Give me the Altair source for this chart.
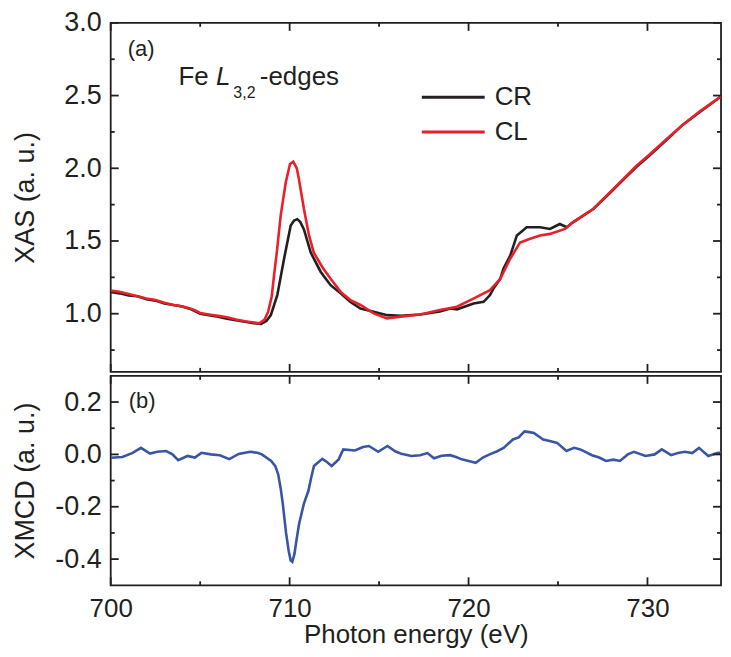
import altair as alt
import pandas as pd

# ---------------- data ----------------
cr_energy = [700.0, 700.5, 701.0, 701.5, 702.0, 702.5, 703.0, 703.5, 704.0, 704.5,
             705.0, 705.5, 706.0, 706.5, 707.0, 707.5, 708.0, 708.4, 708.7, 708.95,
             709.31, 709.69, 710.06, 710.25, 710.43, 710.6, 710.8, 711.18, 711.74, 712.29,
             712.85, 713.4, 713.96, 714.7, 715.45, 716.2, 717.3, 718.4, 718.98, 719.35,
             720.28, 720.84, 721.2, 721.39, 721.77, 721.95, 722.33, 722.7, 723.25, 724.0,
             724.55, 725.1, 725.49, 725.85, 726.97, 727.9, 728.64, 729.39, 730.13, 731.06,
             731.98, 732.91, 733.84, 734.5]
cr_xas = [1.150, 1.140, 1.125, 1.120, 1.100, 1.090, 1.070, 1.060, 1.050, 1.030,
          1.000, 0.990, 0.980, 0.965, 0.955, 0.945, 0.935, 0.930, 0.950, 0.990,
          1.128, 1.378, 1.606, 1.640, 1.650, 1.630, 1.580, 1.420, 1.287, 1.196,
          1.140, 1.080, 1.036, 1.014, 0.990, 0.985, 0.995, 1.015, 1.036, 1.030,
          1.070, 1.082, 1.128, 1.173, 1.240, 1.310, 1.400, 1.538, 1.595, 1.595,
          1.583, 1.617, 1.595, 1.630, 1.720, 1.830, 1.920, 2.010, 2.090, 2.195,
          2.300, 2.385, 2.470, 2.530]

cl_energy = [700.0, 700.5, 701.0, 701.5, 702.0, 702.5, 703.0, 703.5, 703.8, 704.2,
             704.6, 705.0, 705.5, 706.0, 706.5, 707.0, 707.5, 708.0, 708.3, 708.6,
             708.8, 709.0, 709.13, 709.3, 709.5, 709.78, 710.02, 710.2, 710.4, 710.52,
             710.8, 711.08, 711.35, 711.83, 712.29, 712.85, 713.4, 713.96, 714.7, 715.45,
             716.2, 717.3, 718.4, 719.35, 720.3, 721.2, 721.77, 722.33, 722.88, 723.44,
             724.0, 724.55, 725.39, 725.85, 726.97, 727.9, 728.64, 729.39, 730.13, 731.06,
             731.98, 732.91, 733.84, 734.5]
cl_xas = [1.160, 1.150, 1.135, 1.120, 1.105, 1.095, 1.075, 1.060, 1.055, 1.045,
          1.030, 1.005, 0.995, 0.985, 0.975, 0.960, 0.948, 0.940, 0.934, 0.960,
          1.014, 1.120, 1.265, 1.440, 1.675, 1.900, 2.030, 2.045, 2.000, 1.925,
          1.720, 1.540, 1.420, 1.320, 1.240, 1.150, 1.094, 1.060, 1.002, 0.968,
          0.980, 0.995, 1.025, 1.048, 1.105, 1.162, 1.240, 1.378, 1.490, 1.515,
          1.538, 1.549, 1.583, 1.630, 1.720, 1.834, 1.925, 2.017, 2.096, 2.200,
          2.300, 2.390, 2.470, 2.530]

xmcd_energy = [700.0, 700.65, 701.2, 701.69, 702.2, 702.6, 703.1, 703.45, 703.77, 704.29,
               704.7, 705.07, 705.6, 706.1, 706.63, 707.15, 707.8, 708.2, 708.45, 708.97,
               709.2, 709.36, 709.5, 709.62, 709.8, 709.95, 710.06, 710.15, 710.27, 710.4,
               710.53, 710.79, 711.05, 711.2, 711.36, 711.6, 711.83, 712.1, 712.35, 712.74,
               712.9, 713.0, 713.65, 714.1, 714.43, 714.95, 715.47, 715.9, 716.25, 716.8,
               717.29, 717.7, 718.07, 718.5, 718.97, 719.3, 719.62, 720.0, 720.4, 720.8,
               721.18, 721.6, 721.96, 722.48, 722.8, 723.13, 723.4, 723.65, 724.17, 724.6,
               724.95, 725.47, 725.9, 726.25, 726.9, 727.3, 727.68, 728.1, 728.46, 728.9,
               729.24, 729.89, 730.4, 730.8, 731.32, 731.7, 732.1, 732.5, 732.88, 733.4,
               733.9, 734.5]
xmcd_values = [-0.013, -0.010, 0.005, 0.025, 0.003, 0.010, 0.013, 0.000, -0.022, -0.006,
               -0.012, 0.006, 0.000, -0.003, -0.018, 0.002, 0.010, 0.006, 0.000, -0.025,
               -0.045, -0.076, -0.130, -0.190, -0.300, -0.370, -0.405, -0.410, -0.380, -0.320,
               -0.265, -0.190, -0.139, -0.090, -0.044, -0.030, -0.017, -0.030, -0.044, -0.019,
               0.005, 0.019, 0.015, 0.028, 0.032, 0.010, 0.032, 0.012, 0.002, -0.006,
               -0.003, 0.005, -0.015, -0.005, -0.003, -0.010, -0.019, -0.025, -0.032, -0.012,
               0.000, 0.012, 0.025, 0.057, 0.065, 0.088, 0.085, 0.082, 0.057, 0.050,
               0.044, 0.013, 0.025, 0.019, -0.003, -0.012, -0.025, -0.020, -0.025, 0.000,
               0.010, -0.006, 0.000, 0.019, -0.003, 0.005, 0.010, 0.005, 0.025, -0.006,
               0.005, 0.010]

series_names = ["CR", "CL"]
series_colors = ["#231f20", "#e8202a"]
xmcd_color = "#3b55a5"

energy_major = [700, 710, 720, 730]
energy_minor = [705, 715, 725]
xas_major = [1.0, 1.5, 2.0, 2.5, 3.0]
xas_minor = [0.75, 1.25, 1.75, 2.25, 2.75]
xmcd_major = [-0.4, -0.2, 0.0, 0.2]
xmcd_minor = [-0.3, -0.1, 0.1]

# ---------------- styling ----------------
FONT = "Liberation Sans"
INK = "#231f20"
W = 612
H_TOP = 350
H_BOT = 210
X_DOMAIN = [700, 734.11]
XAS_DOMAIN = [0.6, 3.0]
XMCD_DOMAIN = [-0.5, 0.3]
MAJ = 8
MIN = 4
TICK_W = 1.8

cr_df = pd.DataFrame({"E": cr_energy, "v": cr_xas, "s": "CR"})
cl_df = pd.DataFrame({"E": cl_energy, "v": cl_xas, "s": "CL"})
xmcd_df = pd.DataFrame({"E": xmcd_energy, "v": xmcd_values})

xsc = alt.Scale(domain=X_DOMAIN, nice=False, zero=False)
ysc_top = alt.Scale(domain=XAS_DOMAIN, nice=False, zero=False)
ysc_bot = alt.Scale(domain=XMCD_DOMAIN, nice=False, zero=False)

label_fmt = "(datum.value < 0 ? '-' : '') + format(abs(datum.value), '.1f')"


def left_axis(values, title):
    return alt.Axis(orient="left", values=values, ticks=False, tickSize=0,
                    domain=False, grid=False,
                    labelExpr=label_fmt, labelFont=FONT, labelFontSize=27,
                    labelColor=INK, labelPadding=9.5,
                    minExtent=50, maxExtent=50,
                    title=title, titleFont=FONT, titleFontSize=27,
                    titleFontWeight="normal", titleColor=INK, titlePadding=21)


def bottom_axis():
    return alt.Axis(orient="bottom", values=energy_major, format="d",
                    ticks=False, tickSize=0, domain=False, grid=False,
                    labelFlush=False,
                    labelFont=FONT, labelFontSize=26, labelColor=INK,
                    labelPadding=10, title="Photon energy (eV)",
                    titleFont=FONT, titleFontSize=26, titleFontWeight="normal",
                    titleColor=INK, titlePadding=0)


def x_ticks(values, length, height, xaxis):
    """Inward ticks on the bottom and top edges of a panel."""
    df = pd.DataFrame({"E": values})
    base = alt.Chart(df).mark_rule(color=INK, strokeWidth=TICK_W)
    bottom_t = base.encode(x=alt.X("E:Q", scale=xsc, axis=xaxis),
                           y=alt.value(height), y2=alt.value(height - length))
    top_t = base.encode(x=alt.X("E:Q", scale=xsc, axis=xaxis),
                        y=alt.value(0), y2=alt.value(length))
    return [bottom_t, top_t]


def y_ticks(values, ysc, length, yaxis):
    """Inward ticks on the left and right edges of a panel."""
    df = pd.DataFrame({"v": values})
    base = alt.Chart(df).mark_rule(color=INK, strokeWidth=TICK_W)
    left_t = base.encode(y=alt.Y("v:Q", scale=ysc, axis=yaxis),
                         x=alt.value(0), x2=alt.value(length))
    right_t = base.encode(y=alt.Y("v:Q", scale=ysc, axis=yaxis),
                          x=alt.value(W), x2=alt.value(W - length))
    return [left_t, right_t]


def label(text, x, y, size, style="normal"):
    return alt.Chart(alt.Data(values=[{}])).mark_text(
        text=text, font=FONT, fontSize=size, fontStyle=style, color=INK,
        align="left", baseline="alphabetic"
    ).encode(x=alt.value(x), y=alt.value(y))


legend = alt.Legend(orient="none", legendX=310.5, legendY=57, title=None,
                    symbolType="stroke", symbolSize=3969, symbolStrokeWidth=3,
                    labelFont=FONT, labelFontSize=26, labelColor=INK,
                    labelOffset=8.5, clipHeight=35, rowPadding=0, padding=0)
color_enc = alt.Color("s:N", scale=alt.Scale(domain=series_names, range=series_colors),
                      legend=legend)

# ---------------- top panel (XAS) ----------------
top_y_axis = left_axis(xas_major, "XAS (a. u.)")
cr_line = alt.Chart(cr_df).mark_line(strokeWidth=2.6, clip=True).encode(
    x=alt.X("E:Q", scale=xsc, axis=None),
    y=alt.Y("v:Q", scale=ysc_top, axis=top_y_axis),
    color=color_enc,
)
cl_line = alt.Chart(cl_df).mark_line(strokeWidth=2.6, clip=True).encode(
    x=alt.X("E:Q", scale=xsc, axis=None),
    y=alt.Y("v:Q", scale=ysc_top, axis=top_y_axis),
    color=color_enc,
)

top = alt.layer(
    cr_line,
    cl_line,
    *x_ticks(energy_major, MAJ, H_TOP, None),
    *x_ticks(energy_minor, MIN, H_TOP, None),
    *y_ticks(xas_major, ysc_top, MAJ, top_y_axis),
    *y_ticks(xas_minor, ysc_top, MIN, top_y_axis),
    label("(a)", 17, 33, 22),
    label("Fe", 68, 62.5, 26),
    label("L", 105.5, 62.5, 26, "italic"),
    label("3,2", 123, 75.5, 16),
    label("-edges", 149.5, 62.5, 26),
).properties(width=W, height=H_TOP)

# ---------------- bottom panel (XMCD) ----------------
bot_x_axis = bottom_axis()
bot_y_axis = left_axis(xmcd_major, "XMCD (a. u.)")
xmcd_line = alt.Chart(xmcd_df).mark_line(strokeWidth=2.6, color=xmcd_color, clip=True).encode(
    x=alt.X("E:Q", scale=xsc, axis=bot_x_axis),
    y=alt.Y("v:Q", scale=ysc_bot, axis=bot_y_axis),
)

bottom = alt.layer(
    xmcd_line,
    *x_ticks(energy_major, MAJ, H_BOT, bot_x_axis),
    *x_ticks(energy_minor, MIN, H_BOT, bot_x_axis),
    *y_ticks(xmcd_major, ysc_bot, MAJ, bot_y_axis),
    *y_ticks(xmcd_minor, ysc_bot, MIN, bot_y_axis),
    label("(b)", 18, 32, 22),
).properties(width=W, height=H_BOT)

chart = alt.vconcat(top, bottom, spacing=0).resolve_scale(
    color="independent"
).resolve_legend(color="independent").configure_view(
    stroke=INK, strokeWidth=1.8
).properties(
    padding={"left": 3, "top": -1, "right": 0, "bottom": 0},
    background="white",
)

chart.save("out.html", embed_options={"renderer": "svg", "actions": False})
